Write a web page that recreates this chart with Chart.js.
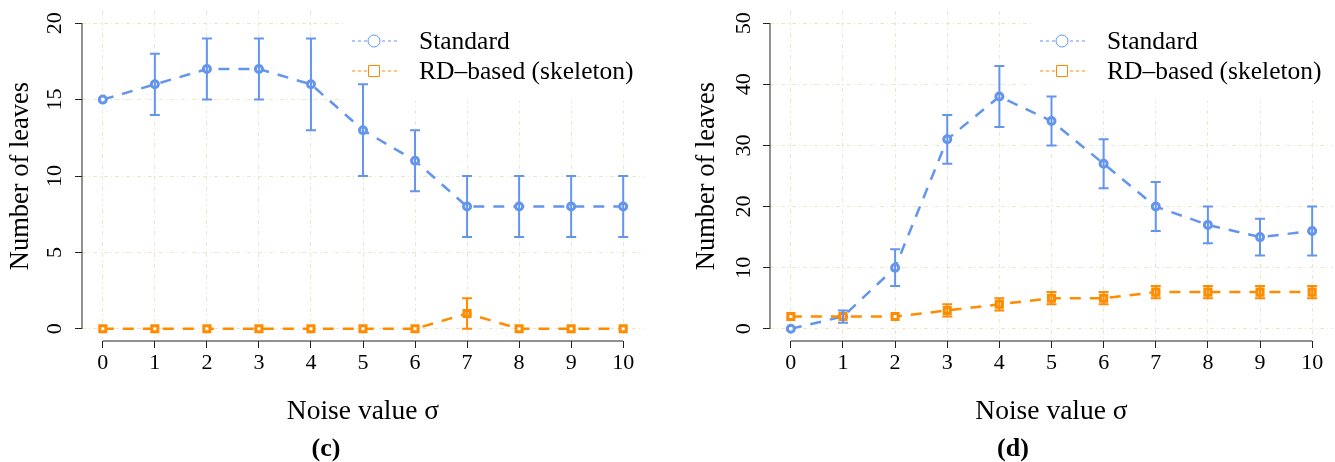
<!DOCTYPE html>
<html>
<head>
<meta charset="utf-8">
<script src="https://cdn.jsdelivr.net/npm/chart.js@4.4.1/dist/chart.umd.min.js"></script>
<style>
  body { margin: 0; background: #fff; width: 1335px; height: 462px; overflow: hidden; position: relative; }
  canvas { position: absolute; top: 0; }
  #chartC { left: 0; }
  #chartD { left: 693px; }
</style>
</head>
<body>
<canvas id="chartC" width="652" height="462"></canvas>
<canvas id="chartD" width="642" height="462"></canvas>
<script>
// valores de sigma (eixo x)
const sigma = [0, 1, 2, 3, 4, 5, 6, 7, 8, 9, 10];
const seriesNames = ['Standard', 'RD\u2013based (skeleton)'];

// painel (c)
const cStdMean = [15, 16, 17, 17, 16, 13, 11, 8, 8, 8, 8];
const cStdLow  = [15, 14, 15, 15, 13, 10, 9, 6, 6, 6, 6];
const cStdHigh = [15, 18, 19, 19, 19, 16, 13, 10, 10, 10, 10];
const cRdMean  = [0, 0, 0, 0, 0, 0, 0, 1, 0, 0, 0];
const cRdLow   = [0, 0, 0, 0, 0, 0, 0, 0, 0, 0, 0];
const cRdHigh  = [0, 0, 0, 0, 0, 0, 0, 2, 0, 0, 0];
const cYTicks  = [0, 5, 10, 15, 20];

// painel (d)
const dStdMean = [0, 2, 10, 31, 38, 34, 27, 20, 17, 15, 16];
const dStdLow  = [0, 1, 7, 27, 33, 30, 23, 16, 14, 12, 12];
const dStdHigh = [0, 3, 13, 35, 43, 38, 31, 24, 20, 18, 20];
const dRdMean  = [2, 2, 2, 3, 4, 5, 5, 6, 6, 6, 6];
const dRdLow   = [2, 2, 2, 2, 3, 4, 4, 5, 5, 5, 5];
const dRdHigh  = [2, 2, 2, 4, 5, 6, 6, 7, 7, 7, 7];
const dYTicks  = [0, 10, 20, 30, 40, 50];

const AZUL = '#6495ED';
const LARANJA = '#FF8C00';
const GRADE = '#EDE6CF';
const SERIF = '"Liberation Serif", "DejaVu Serif", serif';

function pontos(vals) {
  return sigma.map((s, i) => ({ x: s, y: vals[i] }));
}

// desenha caixa da legenda, barras de erro, eixos e rotulos do eixo y
const painelPlugin = {
  id: 'painel',
  beforeDatasetsDraw(chart) {
    const { ctx, chartArea: a } = chart;
    const x0 = a.left + 262;
    ctx.save();
    ctx.fillStyle = '#fff';
    ctx.fillRect(x0, a.top, a.right - x0, 101 - a.top);

    // legenda
    const marcas = ['circle', 'rect'];
    const linhaY = [41, 71];
    chart.data.datasets.forEach((ds, i) => {
      const y = linhaY[i];
      ctx.strokeStyle = ds.borderColor;
      ctx.lineWidth = 1;
      ctx.setLineDash([3, 3]);
      ctx.beginPath();
      ctx.moveTo(a.left + 270, y);
      ctx.lineTo(a.left + 315, y);
      ctx.stroke();
      ctx.setLineDash([]);
      ctx.fillStyle = '#fff';
      const mx = a.left + 292;
      ctx.beginPath();
      if (marcas[i] === 'circle') {
        ctx.arc(mx, y, 6, 0, Math.PI * 2);
      } else {
        ctx.rect(mx - 5.5, y - 5.5, 11, 11);
      }
      ctx.fill();
      ctx.stroke();
      ctx.fillStyle = '#000';
      ctx.font = '25.5px ' + SERIF;
      ctx.textAlign = 'left';
      ctx.textBaseline = 'alphabetic';
      ctx.fillText(ds.label, a.left + 337, y + 8);
    });
    ctx.restore();
  },
  afterDatasetsDraw(chart) {
    const { ctx } = chart;
    const xs = chart.scales.x, ys = chart.scales.y;
    ctx.save();
    chart.data.datasets.forEach(ds => {
      ctx.strokeStyle = ds.borderColor;
      ctx.lineWidth = 2;
      ds.data.forEach((p, j) => {
        const lo = ds.lower[j], hi = ds.upper[j];
        if (lo === hi) return;
        const px = xs.getPixelForValue(p.x);
        const y1 = ys.getPixelForValue(lo), y2 = ys.getPixelForValue(hi);
        ctx.beginPath();
        ctx.moveTo(px, y1); ctx.lineTo(px, y2);
        ctx.moveTo(px - 5, y1); ctx.lineTo(px + 5, y1);
        ctx.moveTo(px - 5, y2); ctx.lineTo(px + 5, y2);
        ctx.stroke();
      });
    });
    ctx.restore();
  },
  afterDraw(chart, args, opts) {
    const { ctx, chartArea: a } = chart;
    const xs = chart.scales.x, ys = chart.scales.y;
    const yt = ys.ticks.map(t => t.value);
    const xt = xs.ticks.map(t => t.value);
    ctx.save();
    ctx.strokeStyle = '#222';
    ctx.lineWidth = 1;
    ctx.beginPath();
    ctx.moveTo(a.left, ys.getPixelForValue(yt[0]));
    ctx.lineTo(a.left, ys.getPixelForValue(yt[yt.length - 1]));
    ctx.moveTo(xs.getPixelForValue(xt[0]), a.bottom);
    ctx.lineTo(xs.getPixelForValue(xt[xt.length - 1]), a.bottom);
    ctx.stroke();

    // rotulos do eixo y, girados como no R
    ctx.fillStyle = '#000';
    ctx.font = '22px ' + SERIF;
    ctx.textAlign = 'center';
    ctx.textBaseline = 'middle';
    yt.forEach(v => {
      ctx.save();
      ctx.translate(opts.labelX, ys.getPixelForValue(v));
      ctx.rotate(-Math.PI / 2);
      ctx.fillText(String(v), 0, 0);
      ctx.restore();
    });
    ctx.restore();
  }
};

function criarPainel(id, cfg) {
  const grade = { color: GRADE, lineWidth: 1, tickLength: 7, tickColor: '#222', tickWidth: 1, tickBorderDash: [] };
  const borda = { display: false, dash: [4, 3, 1, 3] };
  return new Chart(document.getElementById(id), {
    type: 'line',
    data: {
      datasets: [
        {
          label: seriesNames[0], data: pontos(cfg.std), lower: cfg.stdLow, upper: cfg.stdHigh,
          borderColor: AZUL, borderWidth: 2.5, borderDash: [11, 9], tension: 0,
          pointStyle: 'circle', pointRadius: 3.5, pointBorderWidth: 3,
          pointBackgroundColor: '#fff', pointBorderColor: AZUL, order: 2
        },
        {
          label: seriesNames[1], data: pontos(cfg.rd), lower: cfg.rdLow, upper: cfg.rdHigh,
          borderColor: LARANJA, borderWidth: 2.5, borderDash: [11, 9], tension: 0,
          pointStyle: 'rect', pointRadius: 4.3, pointBorderWidth: 3,
          pointBackgroundColor: '#fff', pointBorderColor: LARANJA, order: 1
        }
      ]
    },
    options: {
      responsive: false,
      animation: false,
      layout: { autoPadding: false, padding: { top: 11, left: cfg.padLeft, right: cfg.padRight, bottom: 0 } },
      plugins: {
        legend: { display: false },
        tooltip: { enabled: false },
        title: {
          display: true, position: 'bottom', text: cfg.caption, color: '#000',
          font: { family: SERIF, size: 26, weight: 'bold', lineHeight: 1 }, padding: 0
        },
        painel: { labelX: cfg.labelX }
      },
      scales: {
        x: {
          type: 'linear', min: -0.4, max: 10.4,
          afterBuildTicks: s => { s.ticks = sigma.map(v => ({ value: v })); },
          afterFit: s => { s.height = 95; s.paddingLeft = 0; s.paddingRight = 0; },
          grid: grade, border: borda,
          ticks: { color: '#000', font: { family: SERIF, size: 22 }, padding: 2, maxRotation: 0, autoSkip: false, callback: v => String(v) },
          title: { display: true, text: 'Noise value \u03c3', color: '#000', font: { family: SERIF, size: 27.5, lineHeight: 1 }, padding: { top: 0, bottom: 10 } }
        },
        y: {
          min: cfg.yMin, max: cfg.yMax,
          afterBuildTicks: s => { s.ticks = cfg.yTicks.map(v => ({ value: v })); },
          afterFit: s => { s.width = cfg.yWidth; },
          grid: grade, border: borda,
          ticks: { display: false },
          title: { display: true, text: 'Number of leaves', color: '#000', font: { family: SERIF, size: 26.5, lineHeight: 1 }, padding: { top: cfg.titlePad, bottom: 0 } }
        }
      }
    },
    plugins: [painelPlugin]
  });
}

criarPainel('chartC', {
  std: cStdMean, stdLow: cStdLow, stdHigh: cStdHigh,
  rd: cRdMean, rdLow: cRdLow, rdHigh: cRdHigh,
  yTicks: cYTicks, yMin: -0.8, yMax: 20.8,
  padLeft: 8, padRight: 8, yWidth: 74, titlePad: 0, labelX: 55, caption: '(c)'
});

criarPainel('chartD', {
  std: dStdMean, stdLow: dStdLow, stdHigh: dStdHigh,
  rd: dRdMean, rdLow: dRdLow, rdHigh: dRdHigh,
  yTicks: dYTicks, yMin: -2, yMax: 52,
  padLeft: 0, padRight: 2, yWidth: 77, titlePad: 1, labelX: 51, caption: '(d)'
});
</script>
</body>
</html>
